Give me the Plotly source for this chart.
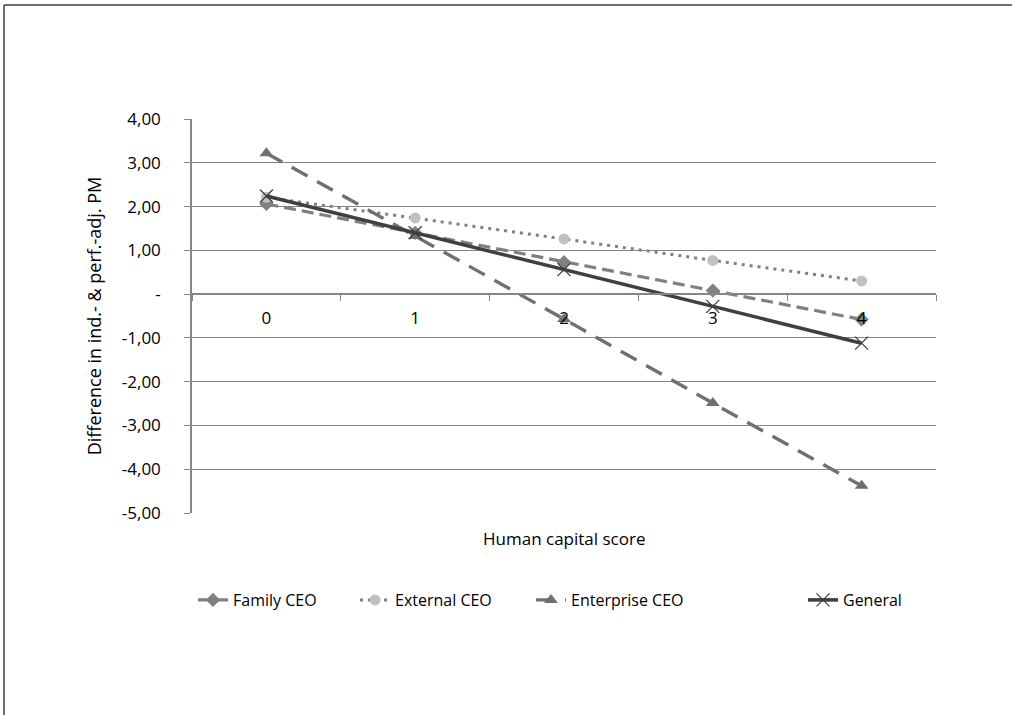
import plotly.graph_objects as go

categories = ["0", "1", "2", "3", "4"]
family_ceo = [2.06, 1.40, 0.73, 0.08, -0.58]
external_ceo = [2.21, 1.74, 1.26, 0.77, 0.30]
enterprise_ceo = [3.22, 1.33, -0.57, -2.49, -4.38]
general = [2.24, 1.40, 0.56, -0.28, -1.12]
y_tickvals = [4, 3, 2, 1, 0, -1, -2, -3, -4, -5]
y_ticktext = ["4,00", "3,00", "2,00", "1,00", "-", "-1,00", "-2,00", "-3,00", "-4,00", "-5,00"]

FONT = "Open Sans"
GRID = "#868686"

fig = go.Figure()
fig.add_trace(go.Scatter(
    x=categories, y=family_ceo, name="Family CEO", mode="lines+markers",
    line=dict(color="#808080", width=3.2, dash="12px,6px"),
    marker=dict(symbol="diamond", size=11, color="#808080"),
    legendwidth=117,
))
fig.add_trace(go.Scatter(
    x=categories, y=external_ceo, name="External CEO", mode="lines+markers",
    line=dict(color="#808080", width=3, dash="3px,5px"),
    marker=dict(symbol="circle", size=11, color="#c0c0c0"),
    legendwidth=131,
))
fig.add_trace(go.Scatter(
    x=categories, y=enterprise_ceo, name="Enterprise CEO", mode="lines+markers",
    line=dict(color="#707070", width=3.4, dash="18px,11px"),
    marker=dict(symbol="triangle-up", size=12, color="#707070"),
    legendwidth=227,
))
fig.add_trace(go.Scatter(
    x=categories, y=general, name="General", mode="lines+markers",
    line=dict(color="#404040", width=3.6),
    marker=dict(symbol="x-thin-open", size=13, color="#404040",
                line=dict(color="#404040", width=1.3)),
    legendwidth=90,
))

L, R, T, B = 192, 76, 119, 202
ph = 715 - T - B
pw = 1012 - L - R

def py(v):
    return (715 - B - v) / ph

def px(v):
    return (v - L) / pw

fig.update_layout(
    width=1012, height=715,
    margin=dict(l=L, r=R, t=T, b=B, autoexpand=False),
    paper_bgcolor="white", plot_bgcolor="white",
    font=dict(family=FONT, size=16, color="#000000"),
    showlegend=True,
    legend=dict(orientation="h", x=px(193), xanchor="left", y=py(600), yanchor="middle",
                font=dict(family=FONT, size=16, color="#000000")),
    xaxis=dict(
        type="category", range=[-0.5, 4.5], anchor="free", position=5 / 9,
        showline=True, linecolor=GRID, linewidth=1.5,
        ticks="outside", ticklen=6, tickcolor=GRID, tickwidth=1.3,
        tickson="boundaries", showgrid=False, zeroline=False,
        ticklabelstandoff=9,
        tickfont=dict(family=FONT, size=17, color="#000000"),
    ),
    yaxis=dict(
        range=[-5, 4], tickvals=y_tickvals, ticktext=y_ticktext,
        showline=True, linecolor=GRID, linewidth=1.5,
        ticks="outside", ticklen=6, tickcolor=GRID, tickwidth=1.3,
        showgrid=True, gridcolor=GRID, gridwidth=1.3, zeroline=False,
        ticklabelstandoff=20,
        tickfont=dict(family=FONT, size=17, color="#000000"),
        title=dict(text="Difference in ind.- & perf.-adj. PM", standoff=16,
                   font=dict(family=FONT, size=18, color="#000000")),
    ),
    annotations=[dict(
        text="Human capital score", xref="paper", yref="paper",
        x=0.5, y=py(538), xanchor="center", yanchor="middle", showarrow=False,
        font=dict(family=FONT, size=17, color="#000000"),
    )],
    shapes=[
        dict(type="line", xref="paper", yref="paper", x0=px(4), x1=px(1020),
             y0=py(5), y1=py(5), line=dict(color="#404040", width=1.5)),
        dict(type="line", xref="paper", yref="paper", x0=px(4), x1=px(4),
             y0=py(5), y1=py(720), line=dict(color="#404040", width=1.5)),
    ],
)

fig.write_html("out.html")
